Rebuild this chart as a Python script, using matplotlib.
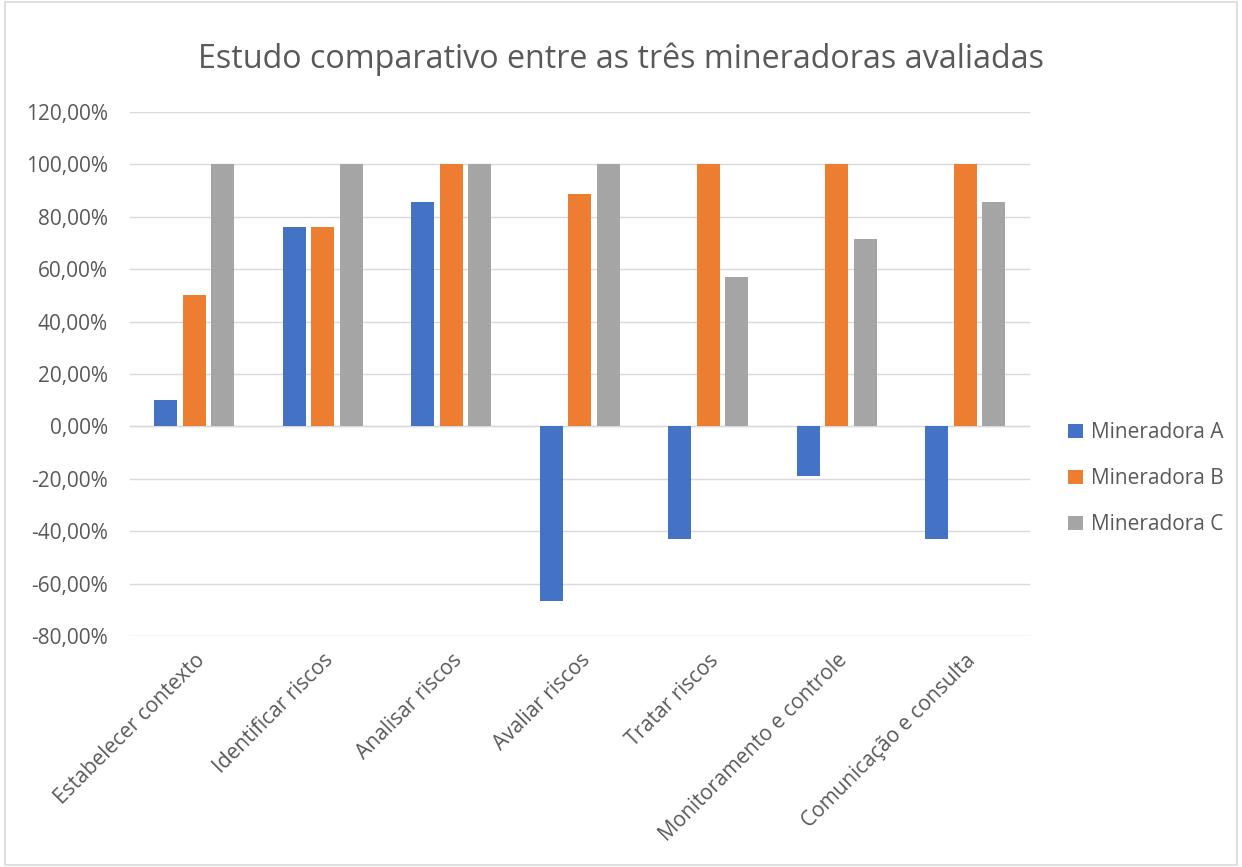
import numpy as np
import matplotlib.pyplot as plt
from matplotlib.ticker import FuncFormatter
from matplotlib.patches import Rectangle

# Etapas avaliadas e percentuais por mineradora
etapas = ["Estabelecer contexto", "Identificar riscos", "Analisar riscos",
          "Avaliar riscos", "Tratar riscos", "Monitoramento e controle",
          "Comunicação e consulta"]
mineradora_a = [10.0, 76.19, 85.71, -66.67, -42.86, -19.05, -42.86]
mineradora_b = [50.0, 76.19, 100.0, 88.89, 100.0, 100.0, 100.0]
mineradora_c = [100.0, 100.0, 100.0, 100.0, 57.14, 71.43, 85.71]
series = ["Mineradora A", "Mineradora B", "Mineradora C"]
cores = ["#4472C4", "#ED7D31", "#A5A5A5"]

plt.rcParams['font.family'] = ['Open Sans', 'DejaVu Sans']
texto = "#595959"

fig = plt.figure(figsize=(12.42, 8.67), dpi=100)
ax = fig.add_axes([0.1047, 0.2664, 0.7243, 0.6044])

# moldura do gráfico
fig.patches.append(Rectangle((0.004, 0.002), 0.992, 0.996, transform=fig.transFigure,
                             fill=False, edgecolor="#D9D9D9", linewidth=1.2))

x = np.arange(len(etapas))
largura = 0.178
passo = 0.222
for i, (vals, nome, cor) in enumerate(zip([mineradora_a, mineradora_b, mineradora_c], series, cores)):
    ax.bar(x + (i - 1) * passo, vals, width=largura, color=cor, label=nome, zorder=3)

ax.set_xlim(-0.5, len(etapas) - 0.5)
ax.set_ylim(-80, 120)
ax.set_yticks(np.arange(-80, 121, 20))
ax.yaxis.set_major_formatter(FuncFormatter(lambda v, p: f"{v:.2f}%".replace(".", ",")))
ax.grid(axis="y", color="#D9D9D9", linewidth=1, zorder=0)
ax.axhline(0, color="#D9D9D9", linewidth=1, zorder=1)
for s in ax.spines.values():
    s.set_visible(False)
ax.tick_params(axis="both", length=0, labelsize=15, colors=texto, pad=10)
ax.tick_params(axis="y", pad=16)
ax.set_xticks(x)
ax.set_xticklabels(etapas, rotation=45, ha="right", rotation_mode="anchor")

fig.text(0.5, 0.932, "Estudo comparativo entre as três mineradoras avaliadas",
         ha="center", va="center", fontsize=23.2, color=texto)

leg = ax.legend(loc="center left", bbox_to_anchor=(1.022, 0.30), frameon=False,
                fontsize=15, labelcolor=texto, handlelength=0.7, handleheight=0.7,
                handletextpad=0.4, labelspacing=1.2)

fig.savefig("out.png", dpi=100)
